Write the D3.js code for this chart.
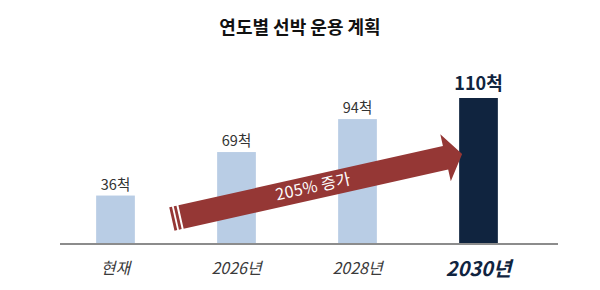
<!DOCTYPE html>
<html>
<head>
<meta charset="utf-8">
<script src="https://cdn.jsdelivr.net/npm/d3@7"></script>
<style>
  body { margin: 0; background: #fff; }
  text { font-family: "Noto Sans CJK KR", "Noto Sans", sans-serif; }
</style>
</head>
<body>
<div id="chart"></div>
<script>
var title = "연도별 선박 운용 계획";
var categories = ["현재", "2026년", "2028년", "2030년"];
var ships = [36, 69, 94, 110];
var unit = "척";
var highlight = "2030년";

var width = 600, height = 290;
var baseY = 243;

var svg = d3.select('#chart')
    .append('svg')
    .attr('width', width)
    .attr('height', height);

var x = d3.scaleBand()
    .domain(categories)
    .range([55, 539])
    .paddingInner(0.68)
    .paddingOuter(0.34);

var y = d3.scaleLinear()
    .domain([0, 110])
    .range([baseY, 98]);

// title
svg.append('text')
    .attr('x', 300)
    .attr('y', 34)
    .attr('text-anchor', 'middle')
    .style('font-size', '18px')
    .style('font-weight', 'bold')
    .style('fill', '#111')
    .text(title);

var rows = categories.map(function(c, i) { return {cat: c, val: ships[i]} });

svg.append('g').selectAll('rect')
    .data(rows)
    .enter()
    .append('rect')
    .attr('x', function(d) { return x(d.cat) })
    .attr('width', x.bandwidth())
    .attr('y', function(d) { return y(d.val) })
    .attr('height', function(d) { return baseY - y(d.val) })
    .style('fill', function(d) { return d.cat == highlight ? '#10243f' : '#b9cde5' });

// value labels
svg.append('g').selectAll('text')
    .data(rows)
    .enter()
    .append('text')
    .attr('x', function(d) { return x(d.cat) + x.bandwidth() / 2 })
    .attr('y', function(d) { return y(d.val) - (d.cat == highlight ? 8 : 6) })
    .attr('text-anchor', 'middle')
    .style('font-size', function(d) { return d.cat == highlight ? '18px' : '14.5px' })
    .style('font-weight', function(d) { return d.cat == highlight ? 'bold' : 'normal' })
    .style('fill', function(d) { return d.cat == highlight ? '#10243f' : '#333' })
    .text(function(d) { return d.val + unit });

// axis line
svg.append('line')
    .attr('x1', 60).attr('x2', 558)
    .attr('y1', baseY + 1).attr('y2', baseY + 1)
    .style('stroke', '#8c8c8c')
    .style('stroke-width', 2);

// category labels
svg.append('g').selectAll('text')
    .data(categories)
    .enter()
    .append('text')
    .attr('x', function(d) { return x(d) + x.bandwidth() / 2 })
    .attr('y', function(d) { return d == highlight ? 276 : 274 })
    .attr('text-anchor', 'middle')
    .style('font-style', 'italic')
    .style('font-size', function(d) { return d == highlight ? '20px' : '16px' })
    .style('font-weight', function(d) { return d == highlight ? 'bold' : 'normal' })
    .style('fill', function(d) { return d == highlight ? '#10243f' : '#3a3a3a' })
    .text(function(d) { return d });

// growth arrow
var growth = Math.floor((ships[3] - ships[0]) / ships[0] * 100);
var tail = [x(categories[0]) + x.bandwidth() + 37, y(18.2)];
var tip = [x(categories[3]) + 3, y(67.5)];
var dx = tip[0] - tail[0], dy = tip[1] - tail[1];
var L = Math.sqrt(dx * dx + dy * dy);
var ang = Math.atan2(dy, dx) * 180 / Math.PI;
var h = 12, H = 24, hl = 17;

var arrow = svg.append('g')
    .attr('transform', 'translate(' + tail[0] + ',' + tail[1] + ') rotate(' + ang + ')');

arrow.append('path')
    .attr('d', d3.line()([[9.4, -h], [L - hl, -h], [L - hl, -H], [L, 0], [L - hl, H], [L - hl, h], [9.4, h]]) + 'Z')
    .style('fill', '#953735');

arrow.selectAll('rect.stripe')
    .data([0, 4.6])
    .enter()
    .append('rect')
    .attr('class', 'stripe')
    .attr('x', function(d) { return d })
    .attr('y', -h)
    .attr('width', 2.8)
    .attr('height', 2 * h)
    .style('fill', '#953735');

arrow.append('text')
    .attr('x', 145)
    .attr('y', 5)
    .attr('text-anchor', 'middle')
    .style('font-size', '16px')
    .style('letter-spacing', '0.3px')
    .style('fill', '#fff')
    .text(growth + '% 증가');
</script>
</body>
</html>
